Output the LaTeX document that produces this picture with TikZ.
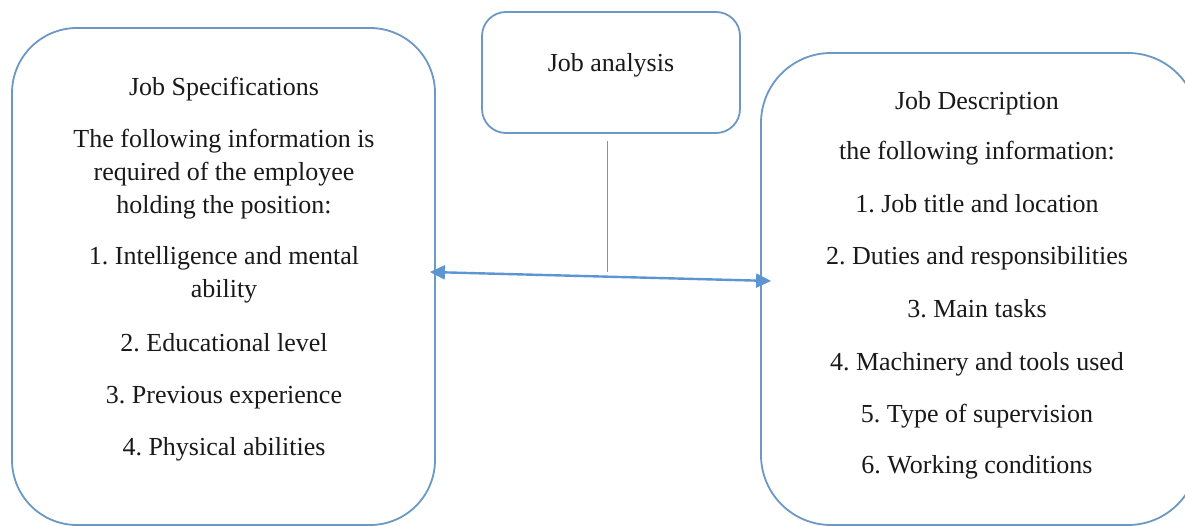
\documentclass[tikz,border=0pt]{standalone}
\usepackage{fontspec}
\setmainfont{Liberation Serif}
\usetikzlibrary{arrows.meta}
\definecolor{boxblue}{RGB}{108,152,196}
\definecolor{arrowblue}{RGB}{91,150,210}
\definecolor{textgray}{RGB}{25,25,25}
\frenchspacing
\begin{document}
\begin{tikzpicture}[x=1pt,y=-1pt,
  box/.style={draw=boxblue,line width=1.8pt,fill=white,rectangle,inner sep=0pt},
  txt/.style={anchor=base,inner sep=0pt,text=textgray,font=\fontsize{26}{33}\selectfont},
  link/.style={draw=arrowblue,line width=2.4pt,{Triangle[length=15pt,width=14pt]}-{Triangle[length=15pt,width=14pt]}},
  stem/.style={draw=boxblue,line width=1pt}]
\useasboundingbox (0,0) rectangle (1185,526);
\clip (0,0) rectangle (1185,526);
\fill[white] (0,0) rectangle (1185,526);
% boxes
\node[box,rounded corners=65pt,minimum width=423pt,minimum height=497pt] (lbox) at (223.5,276.5) {};
\node[box,rounded corners=70pt,minimum width=437pt,minimum height=472pt] (rbox) at (979.5,289) {};
\node[box,rounded corners=24pt,minimum width=258pt,minimum height=121pt] (jbox) at (611,72.5) {};
% texts
\node[txt] (jt) at (611,72) {Job analysis};
\node[txt] (l1) at (224,96) {Job Specifications};
\node[txt] (l2) at (224,148) {The following information is};
\node[txt] (l3) at (224,181) {required of the employee};
\node[txt] (l4) at (224,214) {holding the position:};
\node[txt] (l5) at (224,265) {1. Intelligence and mental};
\node[txt] (l6) at (224,298) {ability};
\node[txt] (l7) at (224,352) {2. Educational level};
\node[txt] (l8) at (224,403) {3. Previous experience};
\node[txt] (l9) at (224,455) {4. Physical abilities};
\node[txt] (r1) at (977,110) {Job Description};
\node[txt] (r2) at (977,160) {the following information:};
\node[txt] (r3) at (977,213) {1. Job title and location};
\node[txt] (r4) at (977,265) {2. Duties and responsibilities};
\node[txt] (r5) at (977,317) {3. Main tasks};
\node[txt] (r6) at (977,370) {4. Machinery and tools used};
\node[txt] (r7) at (977,422) {5. Type of supervision};
\node[txt] (r8) at (977,473) {6. Working conditions};
% connectors
\coordinate (la) at ([shift={(-6pt,4.5pt)}]lbox.east);
\coordinate (ra) at ([shift={(11pt,8pt)}]rbox.west);
\draw[link] (la) -- (ra);
\coordinate (sj) at ([shift={(-4pt,-7pt)}]jbox.south);
\coordinate (se) at (sj |- 0,272);
\draw[stem] (sj) -- (se);
\end{tikzpicture}
\end{document}
